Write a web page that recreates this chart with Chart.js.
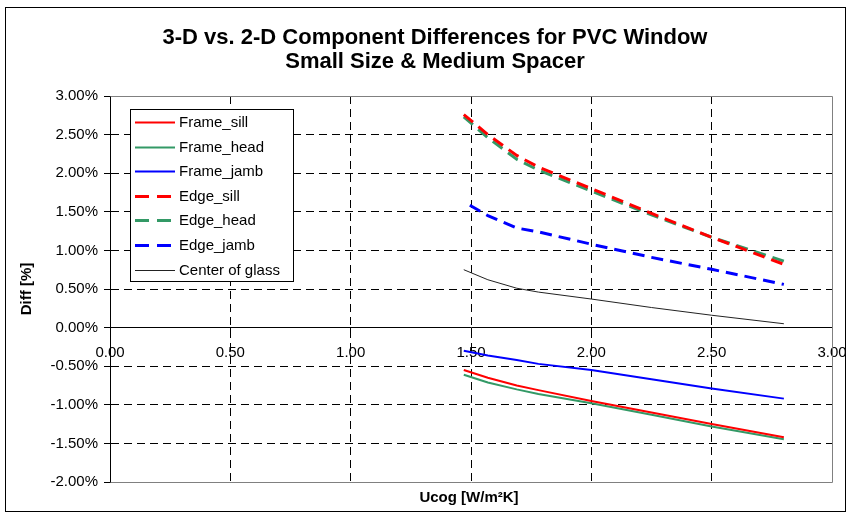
<!DOCTYPE html>
<html>
<head>
<meta charset="utf-8">
<script src="https://cdn.jsdelivr.net/npm/chart.js@4.4.1/dist/chart.umd.min.js"></script>
<style>
  html, body { margin: 0; padding: 0; background: #fff; }
</style>
</head>
<body>
<canvas id="chart" width="849" height="514"></canvas>
<script>
// ─── Dados ───
const ucog        = [1.47, 1.57, 1.69, 1.78, 2.00, 2.25, 2.50, 2.80];
const frameSill   = [-0.55, -0.65, -0.75, -0.81, -0.95, -1.10, -1.25, -1.42];
const frameHead   = [-0.61, -0.71, -0.80, -0.86, -0.98, -1.13, -1.28, -1.445];
const frameJamb   = [-0.30, -0.36, -0.42, -0.47, -0.55, -0.67, -0.79, -0.92];
const edgeSill    = [2.76, 2.50, 2.23, 2.08, 1.80, 1.48, 1.17, 0.82];
const edgeHead    = [2.73, 2.46, 2.18, 2.04, 1.77, 1.46, 1.17, 0.86];
const edgeJamb    = [1.63, 1.45, 1.29, 1.24, 1.08, 0.91, 0.755, 0.56];
const centerGlass = [0.75, 0.62, 0.51, 0.46, 0.37, 0.26, 0.16, 0.05];

const titleLines = ['3-D vs. 2-D Component Differences for PVC Window', 'Small Size & Medium Spacer'];
const xTitle = 'Ucog [W/m\u00B2K]';
const yTitle = 'Diff [%]';
const xMin = 0, xMax = 3, xStep = 0.5;
const yMin = -2, yMax = 3, yStep = 0.5;

const FONT = '"Liberation Sans", Arial, sans-serif';
Chart.defaults.font.family = FONT;
Chart.defaults.color = '#000';

const pts = arr => arr.map((v, i) => ({ x: ucog[i], y: v }));

function series(label, data, color, width, dash, dashOffset) {
  return {
    label, data: pts(data),
    borderColor: color, backgroundColor: color,
    borderWidth: width, borderDash: dash || [], borderDashOffset: dashOffset || 0,
    pointRadius: 0, tension: 0, fill: false, borderCapStyle: 'butt',
  };
}

// ── moldura externa, títulos e borda cinza da área de plotagem ──
const frame = {
  id: 'frame',
  beforeDraw(chart) {
    const { ctx } = chart;
    ctx.save();
    ctx.fillStyle = '#fff';
    ctx.fillRect(0, 0, chart.width, chart.height);
    ctx.strokeStyle = '#000';
    ctx.lineWidth = 1;
    ctx.strokeRect(5.5, 7.5, 840, 504);

    ctx.fillStyle = '#000';
    ctx.textAlign = 'center';
    ctx.textBaseline = 'middle';
    ctx.font = 'bold 22px ' + FONT;
    titleLines.forEach((t, i) => ctx.fillText(t, 435, 38 + i * 23.5));

    const a = chart.chartArea;
    ctx.font = 'bold 15px ' + FONT;
    ctx.fillText(xTitle, (a.left + a.right) / 2 - 2, 498);
    ctx.restore();
  },
  beforeDatasetsDraw(chart) {
    const { ctx, chartArea: a } = chart;
    const l = Math.round(a.left) + 0.5, r = Math.round(a.right) + 0.5;
    const t = Math.round(a.top) + 0.5, b = Math.round(a.bottom) + 0.5;
    ctx.save();
    ctx.strokeStyle = '#808080';
    ctx.lineWidth = 1;
    ctx.beginPath();
    ctx.moveTo(l, t); ctx.lineTo(r, t); ctx.lineTo(r, b); ctx.lineTo(l, b);
    ctx.stroke();
    ctx.restore();
  }
};

// ── legenda com caixa ──
const legendBox = {
  id: 'legendBox',
  afterDraw(chart) {
    const { ctx } = chart;
    const x = 130, y = 109, w = 163, h = 172, row = 24.6;
    ctx.save();
    ctx.fillStyle = '#fff';
    ctx.fillRect(x, y, w, h);
    ctx.strokeStyle = '#000';
    ctx.lineWidth = 1;
    ctx.strokeRect(x + 0.5, y + 0.5, w, h);
    ctx.font = '15px ' + FONT;
    ctx.textBaseline = 'middle';
    chart.data.datasets.forEach((ds, i) => {
      const cy = Math.round(y + 13 + i * row) + 0.5;
      ctx.strokeStyle = ds.borderColor;
      ctx.lineWidth = ds.borderWidth;
      ctx.setLineDash(ds.borderDash.length ? [14, 8] : []);
      ctx.beginPath();
      ctx.moveTo(135, cy); ctx.lineTo(175, cy);
      ctx.stroke();
      ctx.setLineDash([]);
      ctx.fillStyle = '#000';
      ctx.fillText(ds.label, 179, cy);
    });
    ctx.restore();
  }
};

const hiddenY = [yMin, 0, yMax];
const hiddenX = [xMin, xMax];

new Chart(document.getElementById('chart'), {
  type: 'line',
  data: {
    datasets: [
      series('Frame_sill', frameSill, '#FF0000', 2),
      series('Frame_head', frameHead, '#339966', 2),
      series('Frame_jamb', frameJamb, '#0000FF', 2),
      series('Edge_sill', edgeSill, '#FF0000', 3, [12, 7]),
      series('Edge_head', edgeHead, '#339966', 3, [12, 7]),
      series('Edge_jamb', edgeJamb, '#0000FF', 3, [12, 7], 12),
      series('Center of glass', centerGlass, '#222222', 1),
    ],
  },
  options: {
    responsive: false,
    animation: false,
    layout: { padding: { left: 0, right: 17, top: 96, bottom: 32 } },
    plugins: {
      legend: { display: false },
      tooltip: { enabled: false },
      title: { display: false },
    },
    scales: {
      x: {
        type: 'linear',
        position: { y: 0 },
        min: xMin, max: xMax,
        afterFit(scale) { scale.paddingLeft = 0; scale.paddingRight = 0; },
        ticks: {
          stepSize: xStep,
          padding: 10,
          font: { size: 15 },
          color: '#000',
          maxRotation: 0,
          callback: v => v.toFixed(2),
        },
        grid: {
          color: c => hiddenX.includes(c.tick.value) ? 'transparent' : '#000',
          tickColor: '#000',
          tickLength: 6,
        },
        border: { color: '#000', width: 1, dash: [8, 5] },
      },
      y: {
        min: yMin, max: yMax,
        afterFit(scale) { scale.width = 110; },
        ticks: {
          stepSize: yStep,
          padding: 6,
          font: { size: 15 },
          color: '#000',
          callback: v => v.toFixed(2) + '%',
        },
        grid: {
          color: c => hiddenY.includes(c.tick.value) ? 'transparent' : '#000',
          tickColor: '#000',
          tickLength: 6,
        },
        border: { color: '#000', width: 1, dash: [8, 5] },
        title: {
          display: true,
          text: yTitle,
          color: '#000',
          font: { size: 15, weight: 'bold', lineHeight: 1.2 },
          padding: { top: 18, bottom: 0 },
        },
      },
    },
  },
  plugins: [frame, legendBox],
});
</script>
</body>
</html>
